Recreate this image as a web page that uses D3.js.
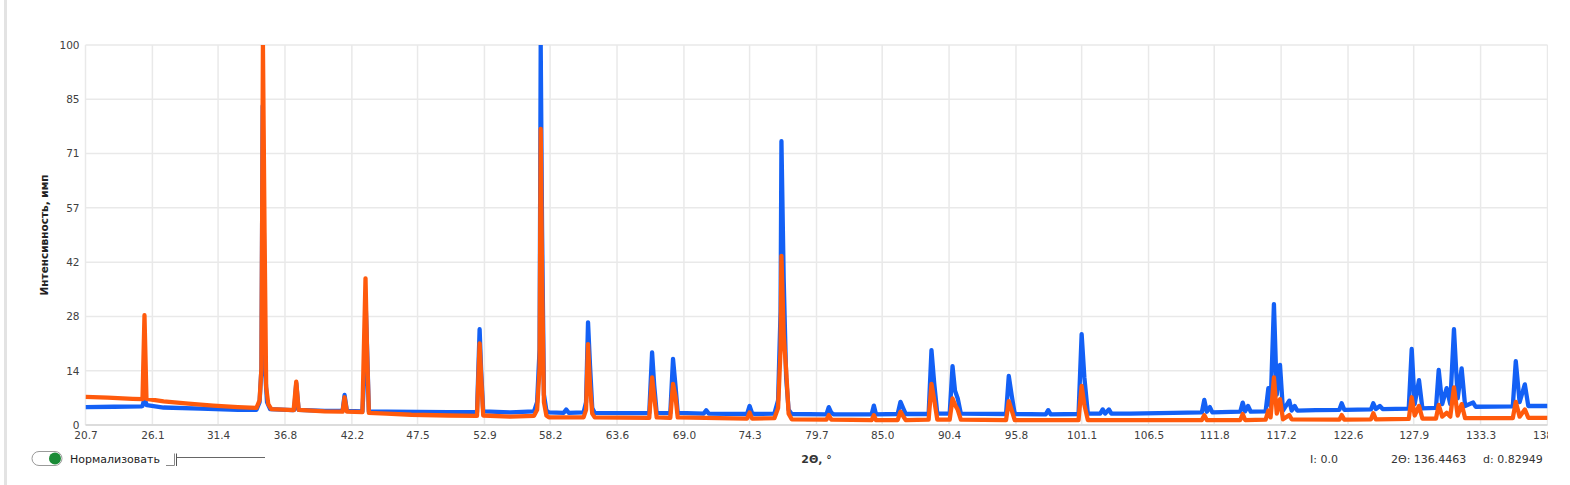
<!DOCTYPE html>
<html><head><meta charset="utf-8">
<script src="https://cdn.jsdelivr.net/npm/d3@7"></script>
<style>
body{margin:0;background:#fff;}
svg{display:block;font-family:"DejaVu Sans",sans-serif;}
</style>
</head><body>
<svg id="chart" width="1548" height="485"></svg>
<script>
// ---- tick labels ----
const xTickLabels = ["20.7","26.1","31.4","36.8","42.2","47.5","52.9","58.2","63.6","69.0","74.3","79.7","85.0","90.4","95.8","101.1","106.5","111.8","117.2","122.6","127.9","133.3","138.7"];
const yTickLabels = ["0","14","28","42","57","71","85","100"];

// ---- series: [2Θ (°), normalized intensity] ----
const bluePattern = [
[20.7,4.7],[23.0,4.8],[25.2,4.9],[25.3,5.0],[25.46,7.0],[25.65,5.2],[27,4.6],[30,4.3],[33,4.0],[34.5,4.0],
[34.75,6],[34.9,15],[35.0,84],[35.1,50],[35.2,14],[35.35,6],[35.6,4.2],
[37.4,3.9],[37.55,4.0],[37.71,11],[37.9,4.0],[40,3.7],
[41.45,3.7],[41.61,7.9],[41.8,3.7],
[43.05,3.6],[43.22,14],[43.3,33],[43.42,21],[43.57,3.6],
[45,3.5],[50,3.4],
[52.3,3.4],[52.51,25.2],[52.63,14.5],[52.8,3.6],[55,3.3],
[56.9,3.6],[57.15,6],[57.35,20],[57.44,100],[57.55,51.5],[57.7,8],[57.9,3.8],[58.1,3.3],
[59.3,3.2],[59.5,4.1],[59.7,3.2],
[60.9,3.3],[61.1,6],[61.26,27.0],[61.42,15.6],[61.6,4.5],[61.8,3.2],[65,3.1],
[66.2,3.1],[66.43,19.1],[66.6,10.5],[66.8,3.2],
[67.9,3.1],[68.12,17.4],[68.32,10.3],[68.5,3.2],
[70.6,3.0],[70.8,3.9],[71.0,3.0],
[74.1,2.9],[74.3,5.0],[74.5,3.1],[74.7,2.9],
[76.3,3.0],[76.6,6.5],[76.8,30],[76.87,74.7],[77.05,38.6],[77.25,12.4],[77.45,4],[77.7,2.9],
[80.5,2.8],[80.69,4.7],[80.9,3.2],[81.1,2.8],
[84.15,2.8],[84.33,5.1],[84.5,2.8],
[86.25,2.9],[86.48,6.1],[86.7,4.4],[86.9,2.9],
[88.75,2.9],[88.98,19.7],[89.2,11.0],[89.45,3.0],
[90.45,3.0],[90.68,15.5],[90.88,9.0],[91.1,7.0],[91.35,3.0],
[95.0,2.9],[95.22,12.9],[95.45,7.9],[95.7,2.9],
[98.2,2.8],[98.4,3.9],[98.6,2.8],
[100.85,2.9],[101.1,23.9],[101.32,12.5],[101.6,3.0],
[102.6,3.0],[102.8,4.1],[103.0,3.0],[103.3,4.1],[103.5,3.0],[105,3.0],
[110.8,3.3],[111.0,6.6],[111.2,3.5],[111.45,4.7],[111.65,3.3],
[113.9,3.5],[114.1,5.9],[114.3,3.6],[114.53,5.0],[114.75,3.5],
[115.95,3.6],[116.17,9.7],[116.35,5],[116.62,31.8],[116.85,8],[117.11,15.8],[117.35,3.8],[117.86,6.4],[118.05,3.8],[118.3,5.0],[118.5,3.8],
[120,3.9],[121.9,4.0],[122.09,5.7],[122.3,4.0],
[124.45,4.1],[124.64,5.7],[124.85,4.2],[125.17,5.0],[125.4,4.2],
[127.5,4.3],[127.74,20.0],[127.98,5.5],[128.33,11.8],[128.6,4.4],
[129.7,4.5],[129.92,14.5],[130.2,5.5],[130.56,9.7],[130.85,5.5],[131.15,25.2],[131.45,7],[131.77,14.9],[132.05,5],[132.7,5.9],[132.9,4.8],
[135.9,4.9],[136.14,16.8],[136.45,6],[136.87,10.7],[137.15,5.0],[138.7,5.0]
];

const orangePattern = [
[20.7,7.4],[22.5,7.2],[24.5,6.9],[25.3,6.8],[25.46,28.9],[25.62,6.9],[27,6.2],[29,5.6],[31,5.1],[33,4.7],[34.5,4.5],
[34.75,6.5],[34.9,15],[35.02,100],[35.15,51],[35.28,10],[35.45,5.5],[35.7,4.2],
[37.5,3.9],[37.71,11.4],[37.9,4.0],
[40,3.6],[41.45,3.5],[41.61,7.3],[41.8,3.5],
[43.05,3.4],[43.3,38.6],[43.42,20],[43.57,3.2],
[45,3.0],[47,2.7],[50,2.5],
[52.3,2.4],[52.51,21.5],[52.63,13],[52.8,2.5],[55,2.2],
[56.9,2.4],[57.15,4],[57.35,15],[57.44,77.9],[57.55,38.7],[57.7,6],[57.9,2.5],[58.1,2.0],
[60.9,2.0],[61.1,4],[61.26,21.3],[61.42,10.5],[61.6,3],[61.8,2.0],
[66.2,1.9],[66.43,12.5],[66.6,7.5],[66.8,2.0],
[67.9,1.9],[68.12,10.8],[68.32,7.5],[68.5,2.0],
[74.1,1.7],[74.3,3.3],[74.5,1.7],
[76.3,1.8],[76.6,4.5],[76.8,20],[76.87,44.5],[77.05,24],[77.25,14.5],[77.45,3],[77.7,1.5],
[80.5,1.4],[80.69,2.6],[80.9,1.4],
[84.15,1.3],[84.33,2.6],[84.5,1.3],
[86.25,1.3],[86.48,3.5],[86.7,2.3],[86.9,1.3],
[88.75,1.4],[88.98,10.8],[89.2,6.6],[89.45,1.4],
[90.45,1.4],[90.68,7.0],[90.88,5.3],[91.1,4.0],[91.35,1.4],
[95.0,1.3],[95.22,6.3],[95.45,3.9],[95.7,1.3],
[100.85,1.3],[101.1,10.3],[101.32,5.3],[101.6,1.3],
[110.8,1.3],[111.0,2.6],[111.2,1.3],
[113.9,1.3],[114.1,2.9],[114.3,1.3],
[115.95,1.4],[116.17,3.8],[116.35,2],[116.62,12.5],[116.85,3],[117.11,6.8],[117.35,1.5],[117.86,2.6],[118.05,1.5],
[121.9,1.4],[122.09,2.6],[122.3,1.4],
[124.45,1.5],[124.64,3.1],[124.85,1.5],
[127.5,1.6],[127.74,7.3],[127.98,2.5],[128.33,5.0],[128.6,1.7],
[129.7,1.7],[129.92,5.3],[130.2,2.2],[130.56,3.2],[130.85,2.2],[131.15,9.9],[131.45,2.5],[131.77,5.5],[132.05,1.8],
[135.9,1.8],[136.14,6.1],[136.45,2.2],[136.87,4.1],[137.15,1.9],[138.7,1.9]
];

const seriesColors = {blue:"#1360f5", orange:"#ff5a0c"};
const readout = {I:"I: 0.0", theta:"2Θ: 136.4463", d:"d: 0.82949"};

// ---- layout ----
const svg = d3.select("#chart");
const L = 85.5, R = 1547.5, T = 45, B = 425;
const x = d3.scaleLinear().domain([+xTickLabels[0], +xTickLabels[xTickLabels.length-1]]).range([L, R]);
const y = d3.scaleLinear().domain([0, 100]).range([B, T]);
const xTickValues = xTickLabels.map(Number);
const yTickValues = yTickLabels.map((_, i) => i * 100 / (yTickLabels.length - 1));

// page left border
svg.append("rect").attr("x",4).attr("y",0).attr("width",3).attr("height",485).attr("fill","#e3e3e3");

// grid
const grid = svg.append("g");
grid.selectAll("line.v").data(xTickValues).join("line")
  .attr("x1", d => x(d)).attr("x2", d => x(d)).attr("y1", T).attr("y2", B)
  .attr("stroke", "#e9e9e9").attr("stroke-width", 1.5);
grid.selectAll("line.h").data(yTickValues).join("line")
  .attr("x1", L).attr("x2", R).attr("y1", d => y(d)).attr("y2", d => y(d))
  .attr("stroke", d => d === 0 ? "#dcdcdc" : "#e9e9e9").attr("stroke-width", d => d === 0 ? 2 : 1.5);

// axes (labels only)
const xAxis = d3.axisBottom(x).tickValues(xTickValues).tickFormat((d,i) => xTickLabels[i]).tickSize(0).tickPadding(7);
const gx = svg.append("g").attr("transform", `translate(0,${B})`).call(xAxis);
gx.select(".domain").remove();
gx.selectAll("text").attr("font-family","DejaVu Sans").attr("font-size","10.5px").attr("fill","#404040");

const yAxis = d3.axisLeft(y).tickValues(yTickValues).tickFormat((d,i) => yTickLabels[i]).tickSize(0).tickPadding(6);
const gy = svg.append("g").attr("transform", `translate(${L},0)`).call(yAxis);
gy.select(".domain").remove();
gy.selectAll("text").attr("font-family","DejaVu Sans").attr("font-size","10.5px").attr("fill","#404040");

// clip
svg.append("clipPath").attr("id","plotClip").append("rect")
  .attr("x", L).attr("y", T).attr("width", R - L).attr("height", B - T + 4);

const line = d3.line().x(d => x(d[0])).y(d => y(d[1]));
const plot = svg.append("g").attr("clip-path","url(#plotClip)");
plot.append("path").datum(bluePattern).attr("d", line)
  .attr("fill","none").attr("stroke", seriesColors.blue).attr("stroke-width", 4.3)
  .attr("stroke-linejoin","round");
plot.append("path").datum(orangePattern).attr("d", line)
  .attr("fill","none").attr("stroke", seriesColors.orange).attr("stroke-width", 4.3)
  .attr("stroke-linejoin","round");

// axis titles
svg.append("text").attr("transform", `translate(48,${(T+B)/2}) rotate(-90)`)
  .attr("text-anchor","middle").attr("font-size","10.5px").attr("font-weight","bold").attr("fill","#222")
  .text("Интенсивность, имп");
svg.append("text").attr("x", (L+R)/2).attr("y", 463).attr("text-anchor","middle")
  .attr("font-size","11px").attr("font-weight","bold").attr("fill","#333").text("2Θ, °");

// normalize toggle
svg.append("rect").attr("x",32).attr("y",451.5).attr("width",30).attr("height",14).attr("rx",7)
  .attr("fill","#fff").attr("stroke","#9a9a9a").attr("stroke-width",1);
svg.append("circle").attr("cx",55).attr("cy",458.5).attr("r",6).attr("fill","#1b8b37");
svg.append("text").attr("x",70).attr("y",462.5).attr("font-size","11px").attr("fill","#222").text("Нормализовать");
svg.append("path").attr("d","M166,465.5H174.5V453.5").attr("fill","none").attr("stroke","#8a8a8a").attr("stroke-width",1);
svg.append("line").attr("x1",176.5).attr("x2",176.5).attr("y1",453.5).attr("y2",466).attr("stroke","#555").attr("stroke-width",1);
svg.append("line").attr("x1",177).attr("x2",265).attr("y1",457.5).attr("y2",457.5).attr("stroke","#666").attr("stroke-width",1);

// readout
svg.append("text").attr("x",1310).attr("y",463).attr("font-size","11px").attr("fill","#333").text(readout.I);
svg.append("text").attr("x",1391).attr("y",463).attr("font-size","11px").attr("fill","#333").text(readout.theta);
svg.append("text").attr("x",1483).attr("y",463).attr("font-size","11px").attr("fill","#333").text(readout.d);
</script>
</body></html>
